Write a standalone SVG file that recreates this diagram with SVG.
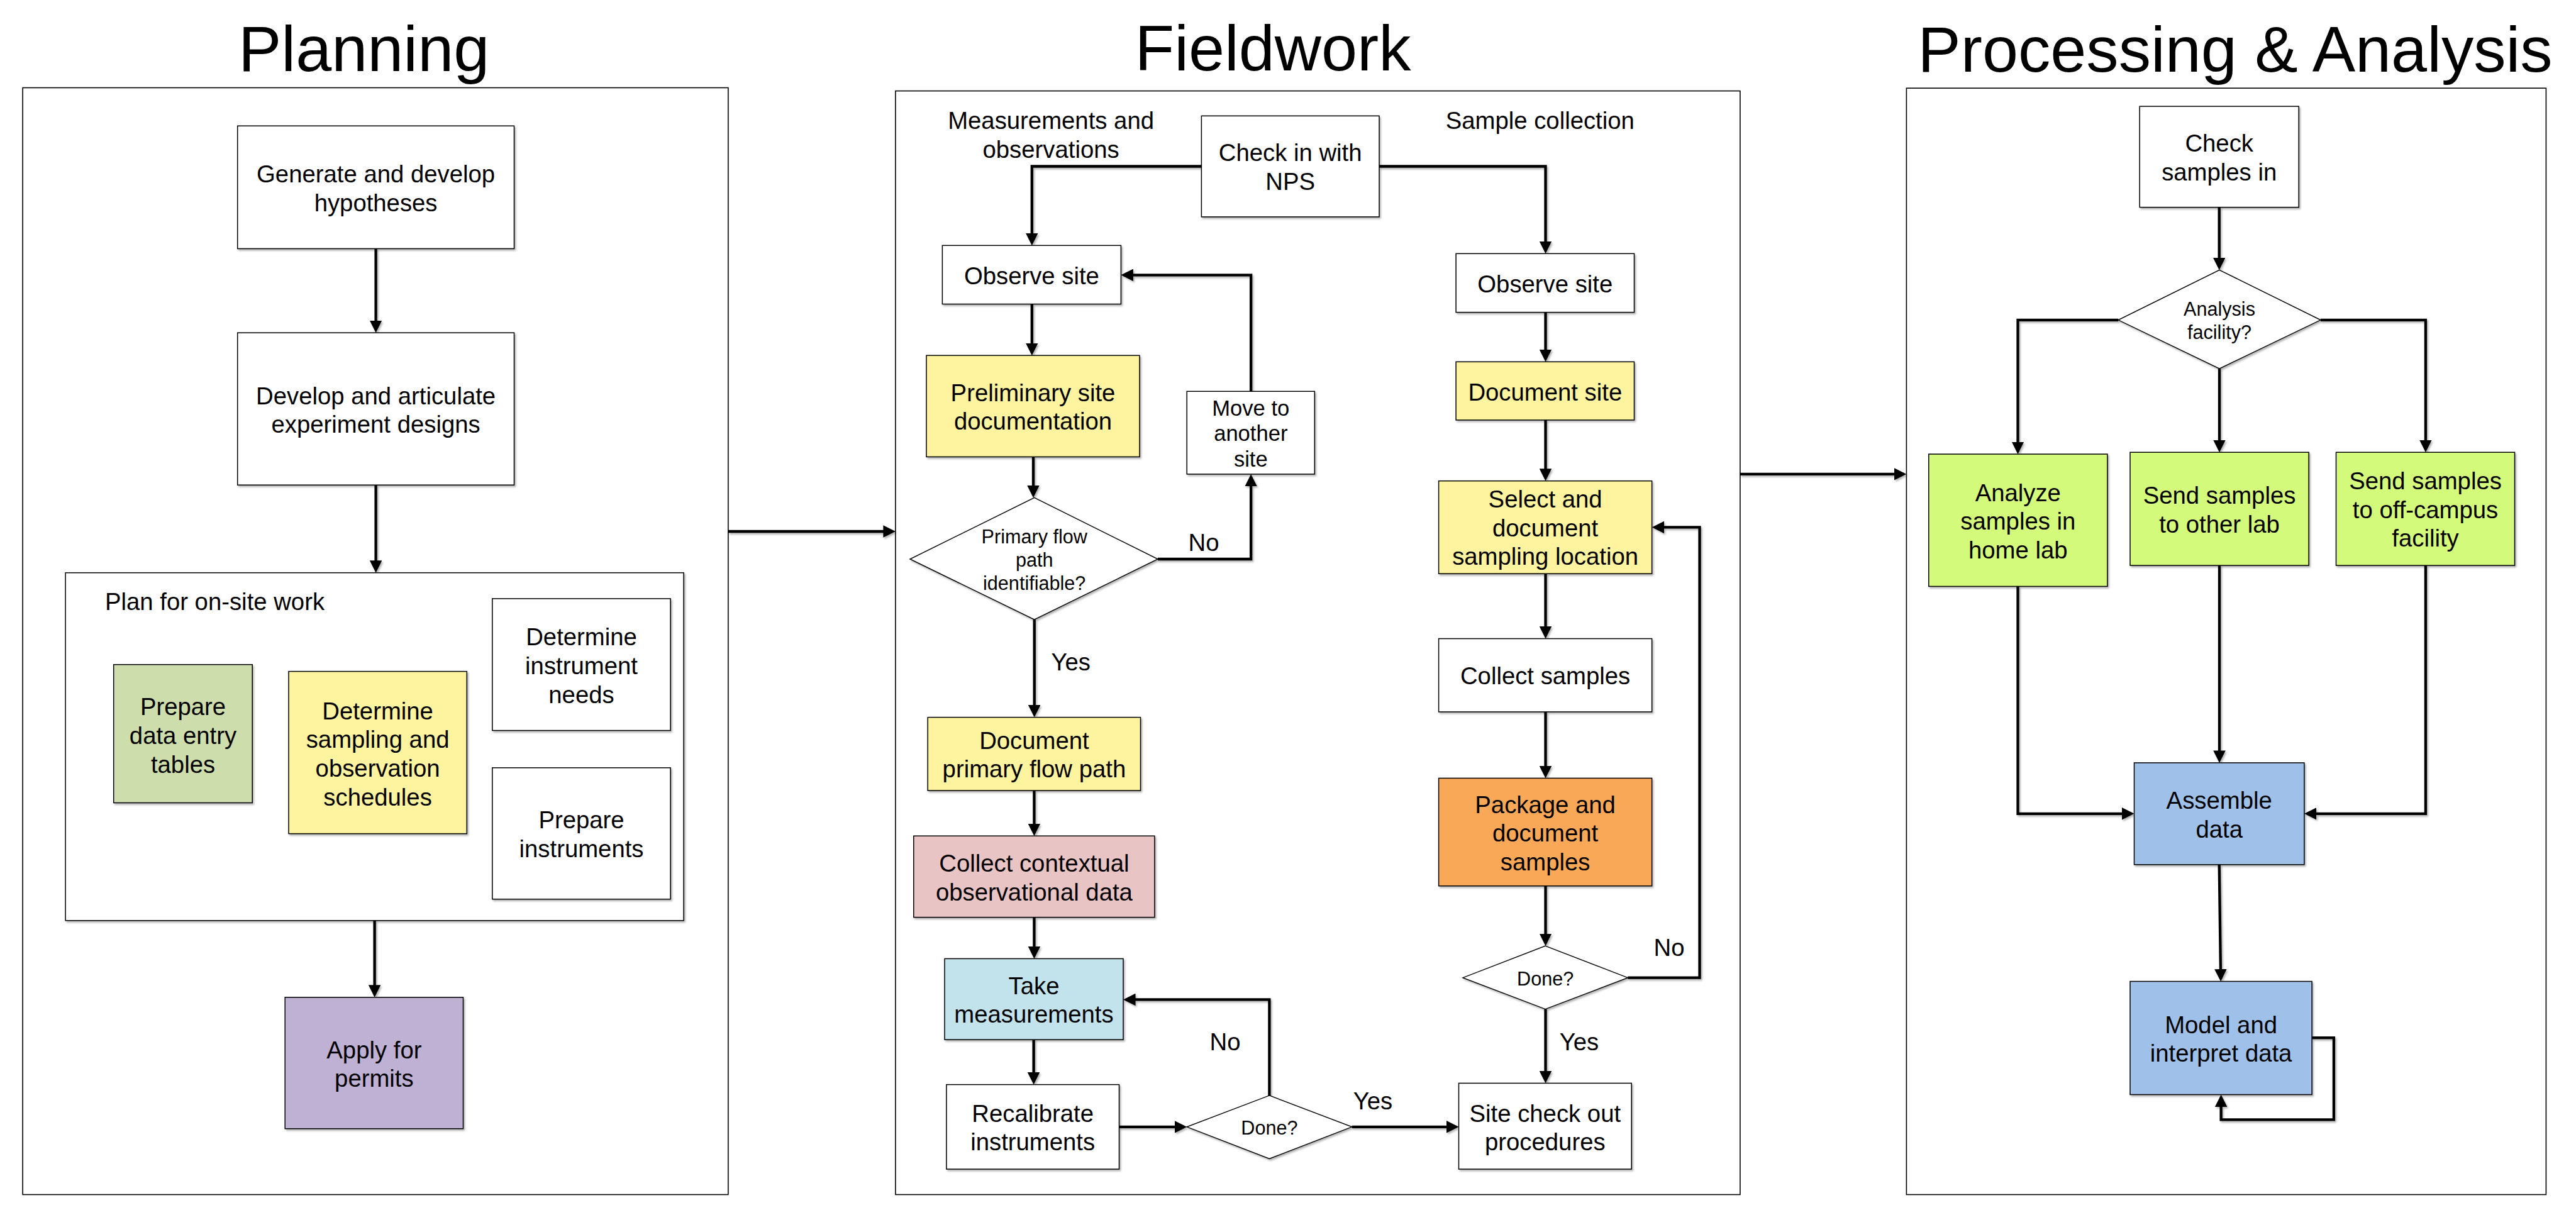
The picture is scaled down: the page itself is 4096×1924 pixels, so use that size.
<svg xmlns="http://www.w3.org/2000/svg" width="4096" height="1924" viewBox="0 0 4096 1924">
<defs>
<style>
.t{font-family:"Liberation Sans",Arial,sans-serif;font-size:38.3px;fill:#000;text-anchor:middle}
.d{font-family:"Liberation Sans",Arial,sans-serif;font-size:30.6px;fill:#000;text-anchor:middle}
.ttl{font-family:"Liberation Sans",Arial,sans-serif;font-size:102.6px;fill:#000;text-anchor:middle}
.frame{fill:#fff;stroke:#000;stroke-width:1.6}
.box{stroke:#000;stroke-width:1.5;filter:url(#sh)}
.dia{fill:#fff;stroke:#000;stroke-width:1.4;filter:url(#sh)}
.c{fill:none;stroke:#000;stroke-width:4.3;marker-end:url(#ah)}
</style>
<filter id="sh" x="-10%" y="-10%" width="130%" height="130%">
<feDropShadow dx="2" dy="2.5" stdDeviation="1.8" flood-color="#000" flood-opacity="0.3"/>
</filter>
<marker id="ah" viewBox="0 0 19.5 19.5" refX="15" refY="9.75" markerWidth="19.5" markerHeight="19.5" markerUnits="userSpaceOnUse" orient="auto">
<path d="M0,0 L19.5,9.75 L0,19.5 z" fill="#000"/>
</marker>
</defs>
<rect width="4096" height="1924" fill="#fff"/>

<g id="phases">
<rect class="frame" x="36.1" y="139.5" width="1121.8" height="1760"/>
<rect class="frame" x="1423.9" y="144.6" width="1343" height="1754.9"/>
<rect class="frame" x="3031.4" y="140.2" width="1017" height="1759.3"/>
<text class="ttl" x="578.6" y="112.7">Planning</text>
<text class="ttl" x="2024" y="111.5">Fieldwork</text>
<text class="ttl" x="3554" y="113.9">Processing &amp; Analysis</text>
</g>

<g id="connectors" filter="url(#sh)">
<path class="c" d="M597.6,395.4 V524.6"/>
<path class="c" d="M597.6,771.2 V906.2"/>
<path class="c" d="M924.5,1161.5 V1216.3"/>
<path class="c" d="M595.6,1463.7 V1581.3"/>
<path class="c" d="M1157.9,845 H1419.4"/>
<path class="c" d="M1910.4,264.5 H1640.8 V385.8"/>
<path class="c" d="M2193,264.5 H2457.5 V398.8"/>
<path class="c" d="M1640.8,483.5 V560.7"/>
<path class="c" d="M1643,726.4 V786.9"/>
<path class="c" d="M1841,889 H1989.1 V758.4"/>
<path class="c" d="M1989.1,622.3 V437.3 H1786.9"/>
<path class="c" d="M1644.7,985.2 V1136.1"/>
<path class="c" d="M1644.4,1257 V1324.7"/>
<path class="c" d="M1644.4,1458.6 V1519.9"/>
<path class="c" d="M1643.6,1653.1 V1720.1"/>
<path class="c" d="M1779.5,1791.8 H1882.7"/>
<path class="c" d="M2018.4,1741.9 V1589.4 H1790.5"/>
<path class="c" d="M2149.6,1791.8 H2315"/>
<path class="c" d="M2457.5,496.6 V570.8"/>
<path class="c" d="M2457.5,667.9 V760.2"/>
<path class="c" d="M2457.5,912.2 V1011"/>
<path class="c" d="M2457.5,1131.9 V1232.9"/>
<path class="c" d="M2457.5,1408.7 V1499.6"/>
<path class="c" d="M2588.3,1554.7 H2702.5 V838.4 H2631.1"/>
<path class="c" d="M2457.5,1604.6 V1717.9"/>
<path class="c" d="M2766.9,753.9 H3026.9"/>
<path class="c" d="M3528.7,329.6 V424.8"/>
<path class="c" d="M3368.2,508.8 H3208.5 V717.6"/>
<path class="c" d="M3529,586.2 V714.7"/>
<path class="c" d="M3689.9,508.8 H3856.9 V714.7"/>
<path class="c" d="M3208.5,932.4 V1293.8 H3389"/>
<path class="c" d="M3529,899.1 V1208.4"/>
<path class="c" d="M3856.9,899.1 V1293.8 H3668.4"/>
<path class="c" d="M3528.7,1374.8 L3531.1,1556"/>
<path class="c" d="M3676.1,1650.2 H3710.9 V1780.3 H3531.6 V1745"/>
</g>

<g id="labels">
<text class="t" x="1914" y="876">No</text>
<text class="t" x="1702.7" y="1066">Yes</text>
<text class="t" x="1948" y="1669.7">No</text>
<text class="t" x="2183" y="1763.6">Yes</text>
<text class="t" x="2654" y="1520">No</text>
<text class="t" x="2511" y="1669.7">Yes</text>
<text class="t" x="1671.1" y="205.3">Measurements and</text>
<text class="t" x="1671.1" y="250.8">observations</text>
<text class="t" x="2448.8" y="205.3">Sample collection</text>
</g>

<!-- Planning -->
<g id="n-generate">
<rect class="box" x="377.7" y="200.2" width="439.8" height="195.2" fill="#fff"/>
<text class="t" x="597.6" y="290">Generate and develop</text>
<text class="t" x="597.6" y="335.5">hypotheses</text>
</g>
<g id="n-develop">
<rect class="box" x="377.7" y="529.1" width="439.8" height="242.1" fill="#fff"/>
<text class="t" x="597.6" y="642.5">Develop and articulate</text>
<text class="t" x="597.6" y="688">experiment designs</text>
</g>
<g id="n-plan">
<rect class="box" x="104.1" y="910.7" width="983" height="553" fill="#fff"/>
<text class="t" x="167" y="970" style="text-anchor:start">Plan for on-site work</text>
</g>
<g id="n-tables">
<rect class="box" x="180.7" y="1056.7" width="220.5" height="219.8" fill="#CEDDAC"/>
<text class="t" x="291" y="1137">Prepare</text>
<text class="t" x="291" y="1183">data entry</text>
<text class="t" x="291" y="1229">tables</text>
</g>
<g id="n-schedules">
<rect class="box" x="459" y="1067.6" width="283.3" height="258" fill="#FEF39E"/>
<text class="t" x="600.6" y="1143.5">Determine</text>
<text class="t" x="600.6" y="1189.3">sampling and</text>
<text class="t" x="600.6" y="1235.1">observation</text>
<text class="t" x="600.6" y="1281">schedules</text>
</g>
<g id="n-needs">
<rect class="box" x="782.8" y="951.9" width="283.3" height="209.6" fill="#fff"/>
<text class="t" x="924.5" y="1026">Determine</text>
<text class="t" x="924.5" y="1072">instrument</text>
<text class="t" x="924.5" y="1118">needs</text>
</g>
<g id="n-instruments">
<rect class="box" x="782.8" y="1220.8" width="283.3" height="208.9" fill="#fff"/>
<text class="t" x="924.5" y="1317">Prepare</text>
<text class="t" x="924.5" y="1363">instruments</text>
</g>
<g id="n-permits">
<rect class="box" x="453.2" y="1585.8" width="283.3" height="208.9" fill="#BFB1D4"/>
<text class="t" x="594.9" y="1683">Apply for</text>
<text class="t" x="594.9" y="1728">permits</text>
</g>

<!-- Fieldwork -->
<g id="n-checkin">
<rect class="box" x="1910.4" y="184.3" width="282.6" height="160.5" fill="#fff"/>
<text class="t" x="2051.7" y="256">Check in with</text>
<text class="t" x="2051.7" y="302">NPS</text>
</g>
<g id="n-observe-l">
<rect class="box" x="1498.4" y="390.3" width="284" height="93.2" fill="#fff"/>
<text class="t" x="1640.4" y="451.5">Observe site</text>
</g>
<g id="n-prelim">
<rect class="box" x="1473" y="565.2" width="339" height="161.2" fill="#FEF39E"/>
<text class="t" x="1642.5" y="637.5">Preliminary site</text>
<text class="t" x="1642.5" y="683">documentation</text>
</g>
<g id="n-move">
<rect class="box" x="1887.2" y="622.3" width="203.1" height="131.6" fill="#fff"/>
<text class="t" x="1988.8" y="660.5" style="font-size:34.6px">Move to</text>
<text class="t" x="1988.8" y="701" style="font-size:34.6px">another</text>
<text class="t" x="1988.8" y="741.5" style="font-size:34.6px">site</text>
</g>
<g id="n-flowpath">
<polygon class="dia" points="1644.7,791.4 1841,889 1644.7,985.2 1447,889"/>
<text class="d" x="1644.7" y="864">Primary flow</text>
<text class="d" x="1644.7" y="901">path</text>
<text class="d" x="1644.7" y="938">identifiable?</text>
</g>
<g id="n-docprimary">
<rect class="box" x="1475.2" y="1140.6" width="338.3" height="116.4" fill="#FEF39E"/>
<text class="t" x="1644.4" y="1190.5">Document</text>
<text class="t" x="1644.4" y="1236">primary flow path</text>
</g>
<g id="n-contextual">
<rect class="box" x="1452.8" y="1329.2" width="383.1" height="129.4" fill="#E9C4C4"/>
<text class="t" x="1644.4" y="1386">Collect contextual</text>
<text class="t" x="1644.4" y="1431.5">observational data</text>
</g>
<g id="n-take">
<rect class="box" x="1502" y="1524.4" width="284" height="128.7" fill="#C3E3EC"/>
<text class="t" x="1644" y="1580.5">Take</text>
<text class="t" x="1644" y="1626">measurements</text>
</g>
<g id="n-recal">
<rect class="box" x="1504.9" y="1724.6" width="274.6" height="134.4" fill="#fff"/>
<text class="t" x="1642.2" y="1783.5">Recalibrate</text>
<text class="t" x="1642.2" y="1829">instruments</text>
</g>
<g id="n-done-l">
<polygon class="dia" points="2018.4,1741.9 2149.6,1791.8 2018.4,1842.4 1887.2,1791.8"/>
<text class="d" x="2018.4" y="1804">Done?</text>
</g>
<g id="n-checkout">
<rect class="box" x="2319.5" y="1722.4" width="274.7" height="136.6" fill="#fff"/>
<text class="t" x="2456.8" y="1783.5">Site check out</text>
<text class="t" x="2456.8" y="1829">procedures</text>
</g>
<g id="n-observe-r">
<rect class="box" x="2315.1" y="403.3" width="283.4" height="93.3" fill="#fff"/>
<text class="t" x="2456.8" y="464.5">Observe site</text>
</g>
<g id="n-docsite">
<rect class="box" x="2315.1" y="575.3" width="283.4" height="92.6" fill="#FEF39E"/>
<text class="t" x="2456.8" y="637">Document site</text>
</g>
<g id="n-select">
<rect class="box" x="2287.6" y="764.7" width="339" height="147.5" fill="#FEF39E"/>
<text class="t" x="2457.1" y="807">Select and</text>
<text class="t" x="2457.1" y="852.5">document</text>
<text class="t" x="2457.1" y="898">sampling location</text>
</g>
<g id="n-collect">
<rect class="box" x="2287.6" y="1015.5" width="339" height="116.4" fill="#fff"/>
<text class="t" x="2457.1" y="1088">Collect samples</text>
</g>
<g id="n-package">
<rect class="box" x="2287.6" y="1237.4" width="339" height="171.3" fill="#F8A857"/>
<text class="t" x="2457.1" y="1292.5">Package and</text>
<text class="t" x="2457.1" y="1338">document</text>
<text class="t" x="2457.1" y="1383.5">samples</text>
</g>
<g id="n-done-r">
<polygon class="dia" points="2457.2,1504.1 2588.3,1554.7 2457.2,1604.6 2326,1554.7"/>
<text class="d" x="2457.2" y="1567">Done?</text>
</g>

<!-- Processing & Analysis -->
<g id="n-checksamples">
<rect class="box" x="3402.2" y="169.1" width="253" height="160.5" fill="#fff"/>
<text class="t" x="3528.7" y="241">Check</text>
<text class="t" x="3528.7" y="286.5">samples in</text>
</g>
<g id="n-facility">
<polygon class="dia" points="3529,429.3 3689.9,508.8 3529,586.2 3368.2,508.8"/>
<text class="d" x="3529" y="501.6">Analysis</text>
<text class="d" x="3529" y="538.5">facility?</text>
</g>
<g id="n-homelab">
<rect class="box" x="3066.8" y="722.1" width="284.1" height="210.3" fill="#D4FA7C"/>
<text class="t" x="3208.8" y="796.5">Analyze</text>
<text class="t" x="3208.8" y="842">samples in</text>
<text class="t" x="3208.8" y="887.5">home lab</text>
</g>
<g id="n-otherlab">
<rect class="box" x="3387" y="719.2" width="284.1" height="179.9" fill="#D4FA7C"/>
<text class="t" x="3529" y="801">Send samples</text>
<text class="t" x="3529" y="846.5">to other lab</text>
</g>
<g id="n-offcampus">
<rect class="box" x="3714.5" y="719.2" width="284" height="179.9" fill="#D4FA7C"/>
<text class="t" x="3856.5" y="778">Send samples</text>
<text class="t" x="3856.5" y="823.5">to off-campus</text>
<text class="t" x="3856.5" y="869">facility</text>
</g>
<g id="n-assemble">
<rect class="box" x="3393.5" y="1212.9" width="270.4" height="161.9" fill="#9FC0E8"/>
<text class="t" x="3528.7" y="1286">Assemble</text>
<text class="t" x="3528.7" y="1331.5">data</text>
</g>
<g id="n-model">
<rect class="box" x="3387" y="1560.5" width="289.1" height="180" fill="#9FC0E8"/>
<text class="t" x="3531.6" y="1643">Model and</text>
<text class="t" x="3531.6" y="1688">interpret data</text>
</g>
</svg>
